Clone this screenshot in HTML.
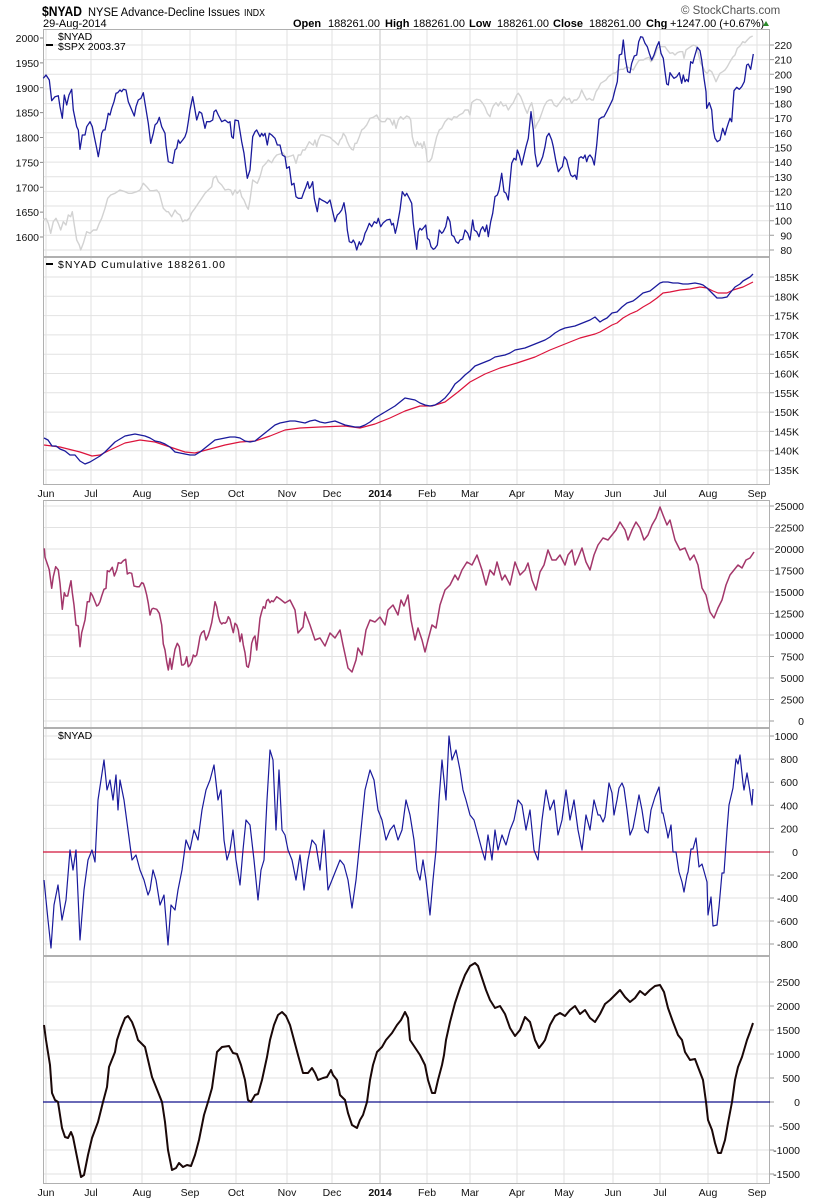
<!DOCTYPE html>
<html><head><meta charset="utf-8"><style>
html,body{margin:0;padding:0;background:#fff;}
svg{display:block;font-family:"Liberation Sans",Arial,sans-serif;}
.g{stroke:#e2e2e2;stroke-width:1;fill:none;}
.b{stroke:#b0b0b0;stroke-width:1;fill:none;}
.t{font-size:10.5px;fill:#111;}
</style></head><body>
<svg width="820" height="1200" viewBox="0 0 820 1200" xmlns="http://www.w3.org/2000/svg">
<rect width="820" height="1200" fill="#fff"/>
<!-- header -->
<text x="42" y="16" font-size="13.5" font-weight="bold" fill="#000" textLength="40" lengthAdjust="spacingAndGlyphs">$NYAD</text>
<text x="88" y="16" font-size="11.5" fill="#000" textLength="152" lengthAdjust="spacingAndGlyphs">NYSE Advance-Decline Issues</text>
<text x="244" y="16" font-size="10" fill="#000" textLength="21" lengthAdjust="spacingAndGlyphs">INDX</text>
<text x="43" y="27" font-size="11" fill="#000">29-Aug-2014</text>
<text x="681" y="14" font-size="11.5" fill="#555">© StockCharts.com</text>
<g font-size="11" fill="#000">
<text x="293" y="27" font-weight="bold">Open</text><text x="328" y="27">188261.00</text>
<text x="385" y="27" font-weight="bold">High</text><text x="413" y="27">188261.00</text>
<text x="469" y="27" font-weight="bold">Low</text><text x="497" y="27">188261.00</text>
<text x="553" y="27" font-weight="bold">Close</text><text x="589" y="27">188261.00</text>
<text x="646" y="27" font-weight="bold">Chg</text><text x="670" y="27">+1247.00 (+0.67%)</text>
</g>
<polygon points="763,26 769,26 766,21" fill="#2a8a2a"/>

<!-- vertical grid -->
<g id="vg">
<g class="g">
<path d="M46 29V257M91 29V257M142 29V257M190 29V257M236 29V257M287 29V257M332 29V257M427 29V257M470 29V257M517 29V257M564 29V257M613 29V257M660 29V257M708 29V257M757 29V257"/>
<path d="M46 257V485M91 257V485M142 257V485M190 257V485M236 257V485M287 257V485M332 257V485M427 257V485M470 257V485M517 257V485M564 257V485M613 257V485M660 257V485M708 257V485M757 257V485"/>
<path d="M46 500V956M91 500V956M142 500V956M190 500V956M236 500V956M287 500V956M332 500V956M427 500V956M470 500V956M517 500V956M564 500V956M613 500V956M660 500V956M708 500V956M757 500V956"/>
<path d="M46 956V1184M91 956V1184M142 956V1184M190 956V1184M236 956V1184M287 956V1184M332 956V1184M427 956V1184M470 956V1184M517 956V1184M564 956V1184M613 956V1184M660 956V1184M708 956V1184M757 956V1184"/>
</g>
<path d="M380 29V485M380 500V1184" stroke="#c4c4c4" stroke-width="1"/>
</g>
<!-- horizontal grids -->
<g class="g">
<path d="M43 45H770M43 59.6H770M43 74.3H770M43 88.9H770M43 103.6H770M43 118.2H770M43 132.8H770M43 147.5H770M43 162.1H770M43 176.8H770M43 191.4H770M43 206H770M43 220.7H770M43 235.3H770M43 250H770"/>
<path d="M43 277H770M43 296.3H770M43 315.6H770M43 334.9H770M43 354.2H770M43 373.5H770M43 392.8H770M43 412.1H770M43 431.4H770M43 450.7H770M43 470H770"/>
<path d="M43 506H770M43 527.5H770M43 549H770M43 570.5H770M43 592H770M43 613.5H770M43 635H770M43 656.5H770M43 678H770M43 699.5H770M43 721H770"/>
<path d="M43 736H770M43 759.1H770M43 782.2H770M43 805.3H770M43 828.4H770M43 875H770M43 898H770M43 921H770M43 944H770"/>
<path d="M43 982H770M43 1006H770M43 1030H770M43 1054H770M43 1078H770M43 1126H770M43 1150H770M43 1174H770"/>
</g>

<!-- panel borders -->
<rect class="b" x="43.5" y="29.5" width="726" height="227"/>
<rect class="b" x="43.5" y="257.5" width="726" height="227"/>
<rect class="b" x="43.5" y="500.5" width="726" height="227"/>
<rect class="b" x="43.5" y="728.5" width="726" height="227"/>
<rect class="b" x="43.5" y="956.5" width="726" height="227"/>

<!-- left ticks panel 1 -->
<path d="M40 38H43M40 62.9H43M40 87.8H43M40 112.6H43M40 137.5H43M40 162.4H43M40 187.3H43M40 212.1H43M40 237H43" stroke="#888"/>
<g class="t" text-anchor="end">
<text x="39" y="42">2000</text><text x="39" y="66.9">1950</text><text x="39" y="91.8">1900</text><text x="39" y="116.6">1850</text><text x="39" y="141.5">1800</text><text x="39" y="166.4">1750</text><text x="39" y="191.3">1700</text><text x="39" y="216.1">1650</text><text x="39" y="241">1600</text>
</g>

<!-- right axis labels -->
<g class="t" text-anchor="end">
<text x="792" y="49">220</text><text x="792" y="63.6">210</text><text x="792" y="78.3">200</text><text x="792" y="92.9">190</text><text x="792" y="107.6">180</text><text x="792" y="122.2">170</text><text x="792" y="136.8">160</text><text x="792" y="151.5">150</text><text x="792" y="166.1">140</text><text x="792" y="180.8">130</text><text x="792" y="195.4">120</text><text x="792" y="210">110</text><text x="792" y="224.7">100</text><text x="792" y="239.3">90</text><text x="792" y="254">80</text>
<text x="799" y="281">185K</text><text x="799" y="300.3">180K</text><text x="799" y="319.6">175K</text><text x="799" y="338.9">170K</text><text x="799" y="358.2">165K</text><text x="799" y="377.5">160K</text><text x="799" y="396.8">155K</text><text x="799" y="416.1">150K</text><text x="799" y="435.4">145K</text><text x="799" y="454.7">140K</text><text x="799" y="474">135K</text>
<text x="804" y="510">25000</text><text x="804" y="531.5">22500</text><text x="804" y="553">20000</text><text x="804" y="574.5">17500</text><text x="804" y="596">15000</text><text x="804" y="617.5">12500</text><text x="804" y="639">10000</text><text x="804" y="660.5">7500</text><text x="804" y="682">5000</text><text x="804" y="703.5">2500</text><text x="804" y="725">0</text>
<text x="798" y="740">1000</text><text x="798" y="763.1">800</text><text x="798" y="786.2">600</text><text x="798" y="809.3">400</text><text x="798" y="832.4">200</text><text x="798" y="856">0</text><text x="798" y="879">-200</text><text x="798" y="902">-400</text><text x="798" y="925">-600</text><text x="798" y="948">-800</text>
<text x="800" y="986">2500</text><text x="800" y="1010">2000</text><text x="800" y="1034">1500</text><text x="800" y="1058">1000</text><text x="800" y="1082">500</text><text x="800" y="1106">0</text><text x="800" y="1130">-500</text><text x="800" y="1154">-1000</text><text x="800" y="1178">-1500</text>
</g>
<!-- right tick marks -->
<path d="M770 45H774M770 59.6H774M770 74.3H774M770 88.9H774M770 103.6H774M770 118.2H774M770 132.8H774M770 147.5H774M770 162.1H774M770 176.8H774M770 191.4H774M770 206H774M770 220.7H774M770 235.3H774M770 250H774
M770 277H774M770 296.3H774M770 315.6H774M770 334.9H774M770 354.2H774M770 373.5H774M770 392.8H774M770 412.1H774M770 431.4H774M770 450.7H774M770 470H774
M770 506H774M770 527.5H774M770 549H774M770 570.5H774M770 592H774M770 613.5H774M770 635H774M770 656.5H774M770 678H774M770 699.5H774M770 721H774
M770 736H774M770 759.1H774M770 782.2H774M770 805.3H774M770 828.4H774M770 852H774M770 875H774M770 898H774M770 921H774M770 944H774
M770 982H774M770 1006H774M770 1030H774M770 1054H774M770 1078H774M770 1102H774M770 1126H774M770 1150H774M770 1174H774" stroke="#999"/>

<!-- x labels -->
<g class="t" text-anchor="middle">
<text x="46" y="497">Jun</text><text x="91" y="497">Jul</text><text x="142" y="497">Aug</text><text x="190" y="497">Sep</text><text x="236" y="497">Oct</text><text x="287" y="497">Nov</text><text x="332" y="497">Dec</text><text x="380" y="497" font-weight="bold">2014</text><text x="427" y="497">Feb</text><text x="470" y="497">Mar</text><text x="517" y="497">Apr</text><text x="564" y="497">May</text><text x="613" y="497">Jun</text><text x="660" y="497">Jul</text><text x="708" y="497">Aug</text><text x="757" y="497">Sep</text>
<text x="46" y="1196">Jun</text><text x="91" y="1196">Jul</text><text x="142" y="1196">Aug</text><text x="190" y="1196">Sep</text><text x="236" y="1196">Oct</text><text x="287" y="1196">Nov</text><text x="332" y="1196">Dec</text><text x="380" y="1196" font-weight="bold">2014</text><text x="427" y="1196">Feb</text><text x="470" y="1196">Mar</text><text x="517" y="1196">Apr</text><text x="564" y="1196">May</text><text x="613" y="1196">Jun</text><text x="660" y="1196">Jul</text><text x="708" y="1196">Aug</text><text x="757" y="1196">Sep</text>
</g>

<!-- legends -->
<g font-size="10.5" fill="#000">
<text x="58" y="40">$NYAD</text>
<rect x="46" y="44" width="7" height="2" fill="#000"/>
<text x="58" y="50">$SPX 2003.37</text>
<rect x="46" y="263" width="7" height="2" fill="#000"/>
<text x="58" y="268" textLength="167">$NYAD Cumulative 188261.00</text>
<text x="58" y="739">$NYAD</text>
</g>

<!-- Panel 1 SPX gray -->
<polyline fill="none" stroke="#d2d2d2" stroke-width="1.4" stroke-linejoin="round" points="43.3,220 46,218.3 48.3,223.3 50.7,233.3 53.3,221.7 56,218.3 58.3,223.3 60.7,230 63.3,221.7 66,225 68.3,215 70.7,216.7 72.3,211.7 74.3,225 76.7,240 79.3,245 80.7,250 83.3,243.3 86.7,231.7 90,233.3 93.3,230 96.7,230 99.3,223.3 101.7,218.3 105,208.3 107.7,198.3 110.7,195 115,193.3 120,190 125,191.7 128.3,193.3 131.7,193.3 136.7,191.7 140,190 143.3,183.3 146.7,186.7 150,190.7 153.3,190.7 156.7,190 159.3,193.3 163.3,208.3 166.7,211.7 168.3,211.7 171.7,216.7 175,210 177.3,213.3 180,215 182.7,221.7 185,220 186.7,220.7 189.3,218.3 191.7,212.7 195,208.3 198.3,203.3 201.7,198.3 205,193.3 208.3,190 211.7,186.7 213.3,178.3 216,176 218.3,181.7 221.7,185 225,190 228.3,189.3 230.7,190 232.7,195 235,190 237.3,193.3 240,190 241.7,196.7 244,200 246.7,206.7 248.3,209.3 250,200 252.7,180 255,181.7 257.3,183.3 260,176.7 262.7,166.7 266,163.3 268.3,160 271.7,162.7 274,158.3 276.7,155 280,154 282.7,152.7 286,157.3 288.3,156.7 290.7,156 293.3,155 296,163.3 298.3,155 300.7,155 302.7,150 305,150 306.7,146.7 309.3,141.7 311.7,144 313.3,145 315,140 316.7,146.7 318.3,140 320.7,135 323.3,135 326,136 328.3,136.7 330,137.3 332.7,140 335,141.7 338.3,145 340,140 341.7,138.3 343.3,133.3 345.7,136.7 347.3,141.7 349.3,146 351.7,149.3 353.3,150 355,143.3 356.7,143.3 359.3,136.7 361.7,130 364,128.3 366.7,125 370,118.3 373.3,117.3 376.7,115 379.3,120 381.7,121.7 385,121.7 387.3,118.3 390,119.3 392.7,125 394,120 396,128.3 398.3,120 400.7,116.7 403.3,119.3 406.7,116 409.3,117.3 410.7,120 412.3,136.7 414,143.3 415.7,146.7 417.3,141.7 419,145 420.7,143.3 422.3,148.3 424,141.7 426,150 427.3,161.7 429.3,161.7 431.7,158.3 434,148.3 436.7,136.7 439.3,130 441.7,128.3 445,121.7 448.3,118.3 451.7,120 454,116.7 456.7,117.3 459.3,115 462.7,113.3 465,110 468.3,110 470,115 471.7,102.7 474,100.7 476.7,99.3 480,100 482.7,103.3 485,107.3 487.3,113.3 490,116.7 491.7,110 493.3,106 496,102.7 498.3,106 500.7,101.7 503.3,106 506,105 508.3,110 510.7,106 513.3,102.7 516.7,95 518.3,93.3 520.7,96.7 522.7,101.7 525,108.3 527.3,113.3 529.3,107.3 531.7,102.7 533.3,110 535,128.3 537.3,123.3 539.3,120 541.7,113.3 544,106.7 546.7,101.7 549.3,100 551.7,100 554,105 556.7,106.7 559.3,103.3 561.7,100 564,96.7 566.7,100 569.3,98.3 571.7,103.3 574,100 576.7,100 579.3,96.7 581.7,90 584,95 586.7,100 589.3,98.3 591.7,100 593.3,100 596,91.7 598.3,88.3 600.7,83.3 603.3,81.7 606,80 608.3,76.7 610.7,75 613.3,73.3 616,72.7 618.3,70 620.7,69.3 623.3,69.3 626.7,66.7 630,68.3 633.3,70 636,65 638.7,60.7 640.7,60 643.3,60 646,58.3 649.3,57.3 650.7,61.7 652.7,60 655,55 657.3,48.3 660,46.7 662.7,46.7 665,46.7 667.3,50 670,53.3 672.7,52.7 675,55 677.3,52.7 680,51.7 682.7,51.7 684,58.3 686,50 688.3,48.3 690.7,46.7 693.3,45 696,46 698.3,53.3 700.7,63.3 702.7,66.7 705,71.7 707.3,73.3 709.3,70 711.7,71.7 714,76.7 716,81.7 718.3,76.7 720,73.3 722.7,71.7 725,70 727.3,66.7 730,61.7 732.7,57.3 735,55 737.3,48.3 740,46 742.7,41.7 745,42.7 747.3,40 750,37.3 752.7,36"/>

<!-- Panel 1 NYAD blue -->
<polyline fill="none" stroke="#1a1a9c" stroke-width="1.3" stroke-linejoin="round" points="43.3,78.3 46,75 49.3,80 51.7,100.7 55,96.7 58.3,95.7 60,106.7 62.3,118.3 64.3,95 66.7,105 69,95 71.7,89.3 73.3,110 76.7,126.7 78.3,130 80,149.3 82.3,135 85,135 86.7,126.7 90,121.7 92.3,126.7 94.3,136.7 96.7,148.3 98.3,156.7 100,146.7 101.7,133.3 103.3,130 105,130 106.7,121.7 108.3,113.3 110,115 111.7,108.3 114,101.7 116,93.3 117.7,92.7 120,90 121.7,91.7 123.3,89.3 126,90 128.3,101.7 131,108.3 134.3,116 136,106.7 138.3,100 141,98.3 143.3,92.7 145,103.3 148.3,123.3 150.7,143.3 153.3,133.3 155,125 157.3,122.7 159.3,117.3 161.7,126.7 165,133.3 166,145 168.3,161.7 172.7,163.3 175,150 176.7,148.3 178.3,140 180,143.3 182.7,140 185,136.7 186.7,131.7 188.3,121.7 190,110 192.7,96.7 195,110 196.7,120 199.3,111.7 201.7,113.3 205,128.3 206.7,121.7 210,121.7 212.7,120 214,111.7 216,110 218.3,115 221.7,121.7 225,120 228.3,122.7 230,121.7 231.7,136.7 233.3,138.3 235,120 238.3,120.7 241.7,141.7 244,153.3 245.7,166.7 247.3,178.3 250,170 252.7,136.7 255,131.7 256.7,130 258.3,133.3 260,136.7 261.7,133.3 263.3,136 265,133.3 267.3,145 269.3,133.3 271.7,135 275,138.3 277.3,145 280,145 282.3,155 285,156.7 286.7,168.3 289.3,166.7 291.7,185 294,183.3 296,196.7 298.3,198.3 301.7,198.3 304,191.7 306,186.7 307.7,181.7 309.3,188.3 310.7,186.7 312.7,181.7 314.3,198.3 317.3,211.7 319.3,198.3 321.7,200 325,201.7 327.3,203.3 330,200 332.7,211.7 335,221.7 337.3,215 339.3,213.3 341.7,210 344,202.7 346,215 347.3,230 349.3,241.7 351.7,242.7 353.3,240 355,243.3 356.7,250 359.3,241.7 360.7,245 363.3,240 365,233.3 366.7,230 369.3,223.3 371.7,226.7 374.3,221.7 376.7,223.3 378.3,218.3 380.7,226.7 383.3,222.7 386.7,220 390,219.3 391.7,225 393.3,223.3 395.3,233.3 397.3,225 400,210 402.3,191.7 405,196 406.7,193.3 409.3,198.3 411.7,203.3 413.3,223.3 415,236.7 416.7,249.3 418.3,231.7 420,228.3 421.7,230 424,227.3 425.7,225 427.3,238.3 429.3,240 431,246.7 433.3,249.3 435,248.3 437.3,245 439.3,230 441.7,233.3 443.3,231.7 445.7,226.7 447.7,216.7 450,221.7 451.7,235 454,236.7 456,241.7 458.3,243.3 460,240 462.7,239.3 465,230 467.7,233.3 470,240 472.7,220 474.3,230 476.7,231.7 479,236.7 480.7,230 482.7,226.7 485,231.7 486.7,225 488.3,236.7 490.7,221.7 492.7,213.3 495,196.7 497.3,195 499,190 501.7,173.3 504,191.7 506,193.3 508.3,200 511.7,163.3 514,158.3 516,160 517.3,150 519.3,155 521.7,165 523.3,158.3 526,146.7 528.3,138.3 531,111.7 533.3,130 535,153.3 537.3,166.7 540,163.3 542.7,156.7 545,146.7 546.7,136.7 549,133.3 551.7,140 553.3,146.7 556,161.7 558.3,171.7 560.7,168.3 562.3,166.7 564.3,156.7 566.7,160 568.3,166.7 570.7,175 572.7,176.7 575,175 576.7,179.3 579,158.3 581,156.7 583.3,158.3 585,155 586.7,161.7 588.3,156.7 590,155 592.3,158.3 594.3,165 596.7,145 599,119.3 601.7,117.3 604,116.7 606.7,111.7 610,105 612.7,99.3 615,90 617.3,81.7 619.3,55 621.7,54 623.3,40 625.3,58.3 627.7,71.7 630,72.7 631.7,63.3 634.3,56 636.7,55 638.7,41.7 640.7,36.7 642.7,37.3 645,43.3 647.3,46.7 649.3,53.3 651.7,60 654,55 656.7,46.7 659,41.7 661,53.3 663.3,58.3 665,71.7 666.7,84 668.3,85 670,72.7 672.7,76.7 674,78.3 676.7,76.7 679.3,72.7 681.7,83.3 683.3,75 685,81.7 686.7,79.3 688.3,81.7 690.7,61.7 692.7,63.3 695,55 697.3,47.3 700,50.7 701.7,60 704,78.3 706,91.7 706.7,108.3 709.3,102.7 711.7,110 713.3,130 715,138.3 717.3,141.7 720,140 722.7,128.3 725,135 726.7,128.3 728.3,123.3 730,118.3 731.7,121.7 734,90.7 736.7,87.3 739.3,89.3 741.7,86.7 744.3,81.7 746.7,65 748.3,64 750.7,69.3 753.3,54"/>

<!-- Panel 2 red MA -->
<polyline fill="none" stroke="#dc143c" stroke-width="1.2" stroke-linejoin="round" points="44,445 60,447 80,452 92,456 100,455 110,450 125,443 140,440 155,442 170,447 185,452 195,453 210,449 225,445 240,442 255,441 270,436 285,430 300,428 320,427 345,426 360,428 375,424 390,418 405,411 420,406 432,406 445,402 458,392 470,382 485,374 500,368 517,363 535,357 550,350 565,344 580,338 595,334 600,332 607,328 612,325 617,323 623,318 630,314 637,311 643,307 650,303 657,298 663,293 670,292 680,290 690,289 700,287 707,288 713,291 718,293 727,293 733,290 743,287 753,282"/>
<!-- Panel 2 blue -->
<polyline fill="none" stroke="#1a1a9c" stroke-width="1.3" stroke-linejoin="round" points="44,438 48,440 52,446 56,446 60,449 65,451 70,455 75,455 80,461 85,464 90,462 95,459 100,456 105,452 110,447 115,442 120,439 125,436 130,435 135,434 140,435 145,436 150,438 155,441 160,442 165,444 170,447 175,452 180,453 185,454 190,455 195,455 200,452 205,448 210,444 215,440 220,439 225,438 230,437 235,437 240,438 245,441 250,442 255,441 260,437 265,433 270,429 275,425 280,423 285,422 290,421 295,421 300,422 305,423 310,421 315,420 320,422 325,423 330,422 335,421 340,423 345,425 350,426 355,427 360,427 365,425 370,422 375,418 380,415 385,412 390,409 395,406 400,402 405,398 410,399 415,400 420,403 425,405 430,406 435,405 440,402 445,398 450,392 455,384 460,380 465,375 470,371 475,366 480,364 485,362 490,360 495,357 500,356 505,355 510,353 515,350 520,349 525,348 530,346 535,344 540,342 545,340 550,337 555,333 560,330 565,328 570,327 575,326 580,324 585,322 590,320 595,317 600,322 603,320 607,318 612,313 617,312 622,307 627,303 633,301 637,298 643,293 650,291 655,287 660,283 663,282 668,282 673,283 678,283 683,284 688,284 695,283 700,284 703,285 707,288 712,293 717,298 722,298 727,297 730,293 735,287 740,284 743,281 750,277 753,274"/>

<!-- Panel 3 maroon -->
<polyline fill="none" stroke="#a3376b" stroke-width="1.5" stroke-linejoin="round" points="44.3,548.3 45,557.3 48.3,566.7 49.3,570 51.7,588.3 53.3,576.7 55.7,566.7 58.3,570 60,583.3 62.3,609.3 64.3,592.7 65.7,596 67.7,596 69.3,588.3 71,580.7 72.3,592.7 74,605 76,625 78.3,626 80,646.7 81.7,632.7 83.3,626.7 85,620 87.3,601.7 89.3,601.7 90.7,592.7 92.7,596 94.3,600 96.7,606 98.3,605 100,601.7 101.7,596 104,589.3 106,588.3 107.3,570.7 109.3,571.7 111,569.3 112.3,567.3 114.3,576 116.7,570 118.3,562.7 121,563.3 123.3,560.7 125.7,559.3 127.3,574 129.3,572.7 131.7,573.3 134,586 136.7,586.7 139.3,586.7 141.7,582.7 143.3,583.3 145,588.3 146.7,595 148.3,603.3 150,615 151.7,609.3 153.3,608.3 156.7,609.3 159.3,613.3 161.7,625 163.3,644 165,650 166.7,661.7 168.3,670 170,658.3 171.7,669.3 173.3,659.3 175,649.3 177.3,643.3 179.3,646.7 181.7,665 183.3,665 185,663.3 186.7,656.7 188.3,666.7 190,665 191.7,661.7 193.3,655 195,656.7 196.7,655 198.3,646.7 200,636.7 201.7,632.7 204,630.7 206,640 208.3,635 210,629.3 211.7,622.7 213.3,613.3 215,601.7 216.7,606.7 218.3,616 220,621.7 221.7,624 223.3,622.7 225,623.3 226.7,621.7 228.3,616.7 230,619.3 231.7,626.7 233.3,632.7 235,623.3 236.7,625 238.3,630 240,641.7 241.7,634 243.3,645 245,652.7 246.7,666 248.3,667.3 250,660 251.7,643.3 253.3,638.3 255,636 256.7,650 258.3,635 260,618.3 261.7,611.7 263.3,606.7 265,608.3 266.7,600.7 268.3,599.3 270,602.7 271.7,600.7 273.3,601.7 275,599.3 276.7,596.7 280,599 285,603 290,600 295,610 298,633 303,627 305,612 310,625 315,640 320,638 325,646 330,633 335,638 340,630 343,645 348,668 352,672 356,660 358,648 362,655 366,630 370,620 375,622 380,617 385,625 388,610 393,605 398,615 401,600 404,606 408,595 411,620 415,640 418,628 422,640 425,652 428,640 432,625 436,628 440,605 445,590 450,585 455,575 458,580 462,570 467,562 472,565 477,555 482,570 486,585 490,570 494,575 497,562 502,580 505,575 510,585 515,562 520,575 525,570 528,563 532,580 536,590 540,572 544,565 548,550 552,560 556,560 560,555 565,565 568,555 572,550 575,565 578,558 582,548 586,562 590,570 594,555 598,545 603,538 608,540 612,535 616,530 620,522 625,530 628,540 632,530 636,522 640,528 644,540 648,535 652,525 656,518 660,507 663,515 667,525 670,520 675,540 680,550 685,548 690,560 694,555 698,565 702,588 706,595 710,612 714,618 718,608 722,600 726,585 730,575 734,570 738,565 742,568 746,560 750,558 754,552"/>

<!-- Panel 4 zero line + blue -->
<path d="M43 852H770" stroke="#d2143a" stroke-width="1.2"/>
<polyline fill="none" stroke="#1a1a9c" stroke-width="1.2" stroke-linejoin="round" points="44,880 48,920 51,948 54,905 58,885 62,920 66,900 70,850 73,870 76,850 80,940 84,890 88,860 92,850 95,862 98,800 101,780 104,760 107,790 110,780 113,800 116,775 118,810 120,780 124,800 128,830 132,860 136,855 140,870 144,880 148,895 150,890 153,870 156,880 160,905 164,895 168,945 171,905 175,910 178,890 182,870 186,840 190,850 194,830 198,840 202,810 206,790 210,780 214,765 218,800 221,790 224,840 227,860 230,850 233,830 236,860 240,885 243,850 246,820 250,825 254,860 258,900 261,870 264,860 267,800 270,750 273,760 276,830 279,770 282,830 285,835 288,850 292,860 296,880 300,855 304,890 308,860 312,840 316,845 320,870 324,830 328,890 332,880 336,870 340,860 344,865 348,880 352,908 356,880 360,840 365,790 370,770 374,780 378,810 382,820 386,840 390,830 394,825 398,840 402,830 406,800 410,815 414,840 417,870 420,880 423,860 426,880 430,915 433,880 436,850 439,800 442,760 446,800 449,736 452,760 456,750 460,770 463,790 466,800 470,815 474,820 478,835 482,850 485,860 488,835 492,860 495,830 498,850 502,835 506,845 510,830 514,820 518,800 522,805 526,830 530,810 534,850 538,860 542,820 546,790 550,810 554,800 558,835 562,820 566,790 570,820 574,800 578,830 582,850 586,815 590,830 594,800 598,815 600,815 603,822 605,817 607,800 609,783 612,793 614,815 617,800 619,788 622,783 624,788 627,810 630,835 633,828 636,812 639,795 642,810 645,830 648,833 651,810 655,797 659,787 662,813 663,813 667,832 668,838 671,825 673,852 676,852 679,872 682,882 684,892 687,875 688,872 691,849 693,849 696,838 699,867 702,864 707,882 708,915 711,897 713,926 717,925 719,907 722,873 724,873 727,830 729,805 733,788 736,759 738,764 740,755 743,783 744,790 747,773 749,785 752,805 753,789"/>

<!-- Panel 5 zero line + black -->
<path d="M43 1102H770" stroke="#10108c" stroke-width="1.2"/>
<polyline fill="none" stroke="#1a0808" stroke-width="2" stroke-linejoin="round" points="44,1025 46,1040 50,1065 52,1093 55,1100 58,1102 62,1128 65,1137 68,1138 71,1132 73,1137 77,1157 81,1177 84,1175 88,1155 92,1138 98,1122 103,1102 107,1087 109,1067 115,1052 117,1040 121,1028 125,1018 128,1016 132,1022 135,1030 138,1040 145,1047 152,1077 158,1092 162,1102 165,1122 168,1150 172,1170 176,1168 179,1163 183,1167 187,1165 191,1166 195,1155 199,1140 204,1115 208,1102 212,1088 217,1052 222,1047 229,1046 233,1053 237,1054 241,1065 245,1080 248,1100 251,1102 255,1095 258,1094 262,1080 267,1057 270,1040 274,1025 278,1015 282,1012 286,1016 290,1025 294,1040 298,1055 303,1073 308,1073 312,1068 315,1073 318,1080 323,1078 327,1077 331,1070 333,1075 337,1080 340,1095 345,1100 348,1113 352,1125 357,1128 360,1120 363,1115 367,1102 370,1080 373,1065 377,1052 382,1047 386,1040 392,1033 397,1025 401,1020 405,1012 408,1018 410,1040 420,1055 425,1065 428,1080 432,1093 435,1093 438,1080 442,1065 444,1055 446,1040 450,1022 455,1003 460,988 465,975 470,966 475,963 478,966 482,978 486,990 490,1000 495,1008 500,1006 505,1014 510,1028 515,1036 520,1030 525,1017 530,1022 535,1040 539,1048 543,1043 545,1040 550,1025 555,1016 560,1013 565,1016 570,1010 575,1006 580,1014 585,1010 590,1018 595,1022 600,1014 605,1004 610,1000 615,995 620,990 625,997 630,1002 635,998 640,991 645,995 650,990 655,986 660,985 664,992 668,1008 673,1022 678,1035 682,1040 685,1052 690,1060 695,1059 698,1067 703,1080 706,1102 708,1120 712,1130 715,1143 718,1153 721,1153 725,1140 728,1123 732,1102 735,1080 738,1067 742,1057 747,1040 750,1032 753,1023"/>
</svg>
</body></html>
